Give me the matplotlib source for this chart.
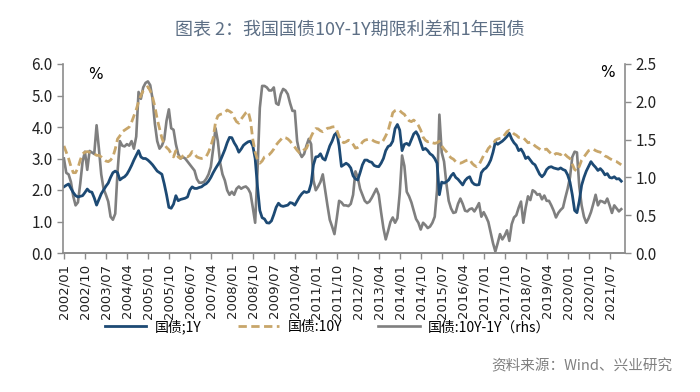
import matplotlib
matplotlib.use("Agg")
import matplotlib.pyplot as plt
import pandas as pd

plt.rcParams['font.family'] = ['Noto Sans CJK SC', 'DejaVu Sans']

months = pd.date_range("2002-01", periods=240, freq="MS").strftime("%Y/%m").tolist()

yield_1y = [
    2.10, 2.15, 2.19, 2.05, 1.92, 1.82, 1.78, 1.80, 1.82, 1.92, 2.03, 1.95,
    1.93, 1.75, 1.52, 1.70, 1.88, 2.00, 2.12, 2.22, 2.40, 2.55, 2.60, 2.55,
    2.32, 2.38, 2.42, 2.50, 2.63, 2.78, 2.95, 3.10, 3.25, 3.05, 3.00, 3.00,
    2.95, 2.88, 2.80, 2.70, 2.60, 2.55, 2.50, 2.20, 1.85, 1.45, 1.42, 1.55,
    1.82, 1.66, 1.70, 1.72, 1.74, 1.78, 2.00, 2.10, 2.05, 2.05, 2.08, 2.10,
    2.16, 2.20, 2.28, 2.40, 2.55, 2.68, 2.80, 2.92, 3.10, 3.28, 3.50, 3.67,
    3.66, 3.50, 3.38, 3.20, 3.30, 3.42, 3.48, 3.53, 3.55, 3.40, 3.00, 2.10,
    1.35, 1.12, 1.08, 0.96, 0.95, 1.02, 1.22, 1.45, 1.58, 1.50, 1.48, 1.50,
    1.52, 1.60, 1.58, 1.52, 1.65, 1.78, 1.88, 1.95, 1.92, 1.95, 2.20, 2.80,
    3.05, 3.06, 3.15, 3.00, 2.95, 3.18, 3.40, 3.55, 3.75, 3.82, 3.40, 2.75,
    2.80, 2.85, 2.80, 2.70, 2.45, 2.35, 2.32, 2.55, 2.80, 2.95, 2.95, 2.90,
    2.88, 2.78, 2.75, 2.74, 2.85, 3.00, 3.25, 3.38, 3.42, 3.55, 3.95, 4.08,
    3.90, 3.25, 3.45, 3.48, 3.42, 3.60, 3.78, 3.85, 3.72, 3.50, 3.28, 3.32,
    3.25, 3.15, 3.10, 3.00, 2.85, 1.85, 2.25, 2.22, 2.26, 2.32, 2.45, 2.53,
    2.40, 2.34, 2.25, 2.16, 2.30, 2.38, 2.42, 2.25, 2.18, 2.16, 2.17, 2.55,
    2.65, 2.70, 2.80, 2.95, 3.20, 3.52, 3.45, 3.50, 3.55, 3.62, 3.70, 3.80,
    3.62, 3.50, 3.42, 3.25, 3.30, 3.18, 3.00, 3.05, 2.95, 2.85, 2.80, 2.65,
    2.50, 2.42, 2.50, 2.65, 2.72, 2.74, 2.70, 2.68, 2.66, 2.70, 2.65, 2.62,
    2.48, 2.25, 1.85, 1.35, 1.28, 1.65, 2.15, 2.40, 2.60, 2.75, 2.90, 2.80,
    2.72, 2.62, 2.68, 2.60, 2.48, 2.52, 2.40, 2.38, 2.42, 2.35, 2.36, 2.28,
]

yield_10y = [
    3.40, 3.20, 3.00, 2.75, 2.55, 2.55, 2.70, 2.95, 3.15, 3.20, 3.22, 3.20,
    3.18, 3.15, 3.10, 3.10, 3.05, 2.98, 2.92, 2.90, 2.95, 3.05, 3.30, 3.62,
    3.72, 3.85, 3.90, 3.95, 4.00, 4.15, 4.35, 4.55, 4.80, 5.00, 5.15, 5.22,
    5.28, 5.15, 4.95, 4.65, 4.25, 3.95, 3.65, 3.45, 3.35, 3.28, 3.15, 3.05,
    3.25, 3.05, 3.00, 3.08, 3.12, 3.05, 3.10, 3.22, 3.15, 3.05, 3.02, 3.00,
    3.02, 3.06, 3.20, 3.40, 3.65, 4.15, 4.35, 4.40, 4.42, 4.45, 4.54, 4.50,
    4.45, 4.30, 4.17, 4.12, 4.25, 4.35, 4.45, 4.50, 4.20, 3.60, 3.20, 2.95,
    2.85, 2.92, 3.05, 3.08, 3.12, 3.20, 3.30, 3.43, 3.52, 3.60, 3.68, 3.66,
    3.62, 3.55, 3.45, 3.36, 3.26, 3.18, 3.20, 3.28, 3.32, 3.50, 3.70, 3.85,
    3.95, 3.94, 3.88, 3.85, 3.90, 3.96, 3.97, 4.00, 4.01, 3.90, 3.70, 3.55,
    3.50, 3.53, 3.58, 3.55, 3.45, 3.33, 3.35, 3.40, 3.52, 3.58, 3.60, 3.62,
    3.60, 3.55, 3.52, 3.50, 3.48, 3.58, 3.72, 3.88, 4.15, 4.45, 4.52, 4.55,
    4.52, 4.45, 4.40, 4.28, 4.20, 4.17, 4.22, 4.15, 4.05, 3.90, 3.68, 3.58,
    3.53, 3.55, 3.50, 3.48, 3.50, 3.55, 3.40, 3.30, 3.22, 3.10, 3.02, 2.98,
    2.90, 2.86, 2.85, 2.88, 2.92, 2.95, 2.97, 2.85, 2.78, 2.74, 2.80, 2.95,
    3.10, 3.18, 3.32, 3.40, 3.45, 3.58, 3.62, 3.64, 3.65, 3.75, 3.85, 3.90,
    3.85, 3.78, 3.74, 3.67, 3.68, 3.66, 3.58, 3.50, 3.52, 3.48, 3.40, 3.35,
    3.30, 3.25, 3.28, 3.30, 3.22, 3.15, 3.10, 3.16, 3.15, 3.12, 3.20, 3.12,
    3.05, 3.00, 2.82, 2.65, 2.60, 2.75, 2.95, 3.05, 3.15, 3.25, 3.28, 3.30,
    3.25, 3.22, 3.20, 3.15, 3.08, 3.05, 3.00, 2.96, 2.92, 2.90, 2.85, 2.80,
]

# 10Y-1Y spread, right axis
spread_rhs = [
    1.25, 1.06, 1.04, 0.94, 0.75, 0.63, 0.67, 0.92, 1.21, 1.34, 1.10, 1.35,
    1.33, 1.31, 1.69, 1.38, 1.04, 0.85, 0.77, 0.68, 0.48, 0.44, 0.52, 1.08,
    1.48, 1.42, 1.41, 1.44, 1.42, 1.48, 1.38, 1.54, 2.13, 2.04, 2.19, 2.25,
    2.27, 2.22, 2.04, 1.71, 1.48, 1.38, 1.42, 1.50, 1.75, 1.90, 1.65, 1.63,
    1.44, 1.31, 1.25, 1.27, 1.25, 1.21, 1.17, 1.13, 1.09, 0.98, 0.93, 0.93,
    0.94, 0.98, 1.04, 1.14, 1.38, 1.65, 1.48, 1.19, 1.04, 0.96, 0.83, 0.77,
    0.81, 0.77, 0.85, 0.88, 0.85, 0.87, 0.88, 0.85, 0.79, 0.60, 0.40, 1.08,
    1.92, 2.21, 2.21, 2.19, 2.15, 2.15, 2.19, 1.98, 1.96, 2.10, 2.17, 2.15,
    2.10, 1.98, 1.88, 1.88, 1.48, 1.33, 1.27, 1.31, 1.42, 1.51, 1.44, 0.96,
    0.83, 0.88, 0.94, 1.04, 0.83, 0.63, 0.44, 0.35, 0.25, 0.46, 0.69, 0.67,
    0.63, 0.63, 0.62, 0.65, 0.77, 1.08, 1.00, 0.85, 0.77, 0.69, 0.66, 0.68,
    0.73, 0.79, 0.85, 0.77, 0.54, 0.33, 0.18, 0.29, 0.41, 0.47, 0.40, 0.46,
    0.79, 1.29, 1.15, 0.81, 0.75, 0.67, 0.56, 0.45, 0.40, 0.31, 0.40, 0.37,
    0.33, 0.35, 0.40, 0.48, 0.83, 1.83, 1.33, 1.21, 0.92, 0.69, 0.59, 0.53,
    0.54, 0.65, 0.72, 0.65, 0.56, 0.55, 0.58, 0.59, 0.55, 0.60, 0.66, 0.48,
    0.54, 0.48, 0.41, 0.27, 0.13, 0.02, 0.13, 0.25, 0.18, 0.23, 0.30, 0.16,
    0.38, 0.47, 0.50, 0.60, 0.68, 0.40, 0.60, 0.75, 0.70, 0.83, 0.81, 0.77,
    0.78, 0.71, 0.76, 0.69, 0.69, 0.63, 0.56, 0.47, 0.53, 0.57, 0.60, 0.73,
    0.85, 1.00, 1.27, 1.34, 1.33, 0.88, 0.63, 0.48, 0.40, 0.46, 0.54, 0.65,
    0.77, 0.63, 0.69, 0.68, 0.66, 0.72, 0.63, 0.53, 0.63, 0.59, 0.55, 0.58,
]

BLUE = "#1d4a74"
TAN = "#c8a66a"
GREY = "#7f7f7f"
AXIS = "#8c8c8c"

fig = plt.figure(figsize=(7, 3.92), dpi=100)
ax = fig.add_axes([63 / 700, 1 - 253 / 392, 562 / 700, 189 / 392])
ax2 = ax.twinx()

x = list(range(len(months)))
l1, = ax.plot(x, yield_1y, color=BLUE, lw=2.0, label="国债;1Y")
l2, = ax.plot(x, yield_10y, color=TAN, lw=2.0, ls=(0, (3, 1.6)), label="国债:10Y")
l3, = ax2.plot(x, spread_rhs, color=GREY, lw=1.9, label="国债:10Y-1Y（rhs）")
ax.set_zorder(ax2.get_zorder() + 1)
ax.patch.set_visible(False)

ax.set_xlim(-0.4, 240.6)
ax.set_ylim(0, 6)
ax2.set_ylim(0, 2.5)
ax.set_yticks([0, 1, 2, 3, 4, 5, 6])
ax.set_yticklabels([f"{v:.1f}" for v in [0, 1, 2, 3, 4, 5, 6]])
ax2.set_yticks([0, 0.5, 1.0, 1.5, 2.0, 2.5])
ax2.set_yticklabels([f"{v:.1f}" for v in [0, 0.5, 1.0, 1.5, 2.0, 2.5]])

tick_pos = x[::9]
ax.set_xticks(tick_pos)
ax.set_xticklabels([months[i] for i in tick_pos], rotation=90, fontsize=9.5,
                   family=['DejaVu Sans'])

for a in (ax, ax2):
    a.spines["top"].set_visible(False)
    for s in ("left", "right", "bottom"):
        a.spines[s].set_color(AXIS)
        a.spines[s].set_linewidth(1.2)
    a.tick_params(colors=AXIS, labelcolor="#222222", length=4, width=1)
ax.tick_params(axis="y", labelsize=11)
ax2.tick_params(axis="y", labelsize=11)
ax.spines["right"].set_visible(False)
ax2.spines["left"].set_visible(False)

ax.text(0.045, 0.92, "%", transform=ax.transAxes, fontsize=11, family=['DejaVu Sans'])
ax.text(0.955, 0.93, "%", transform=ax.transAxes, fontsize=11, family=['DejaVu Sans'])

fig.text(0.5, 1 - 30 / 392, "图表 2：我国国债10Y-1Y期限利差和1年国债", ha="center", va="center",
         fontsize=13, color="#5d6f85", fontweight="medium")
fig.legend([l1, l2, l3], [l1.get_label(), l2.get_label(), l3.get_label()],
           loc="center", bbox_to_anchor=(0.468, 1 - 327 / 392), ncol=3, frameon=False,
           fontsize=10, handlelength=3.0, columnspacing=2.6, handletextpad=0.6)
fig.text(0.96, 1 - 366 / 392, "资料来源：Wind、兴业研究", ha="right", va="center",
         fontsize=10.5, color="#808080")

fig.savefig("out.png", dpi=100)
